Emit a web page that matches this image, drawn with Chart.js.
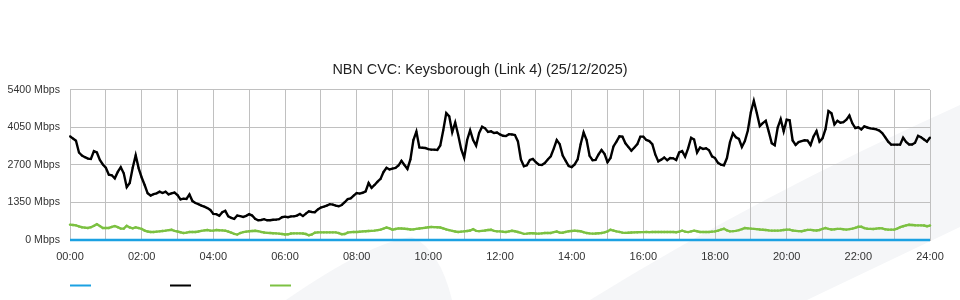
<!DOCTYPE html>
<html><head><meta charset="utf-8">
<script src="https://cdn.jsdelivr.net/npm/chart.js@4/dist/chart.umd.min.js"></script>
<style>html,body{margin:0;padding:0;background:#fff}#wrap{width:960px;height:300px;position:relative}</style>
</head><body><div id="wrap"><canvas id="c" width="960" height="300"></canvas></div>
<script>
const chartTitle = 'NBN CVC: Keysborough (Link 4) (25/12/2025)';
const sampleMinutes = 5;
const timeLabels = ['00:00','02:00','04:00','06:00','08:00','10:00','12:00','14:00','16:00','18:00','20:00','22:00','24:00'];
const yTickValues = [0, 1350, 2700, 4050, 5400];
const yUnit = 'Mbps';

const blueTimes = [0, 1440];
const blueSeries = [0, 0];

const blackSeries = [
3733,3650,3576,3150,3040,2980,2930,2916,3200,3150,
2880,2720,2600,2350,2330,2220,2450,2620,2400,1900,
2050,2600,3050,2580,2250,1980,1680,1600,1650,1680,
1740,1690,1740,1640,1680,1710,1620,1460,1488,1480,
1640,1400,1332,1290,1240,1200,1150,1080,940,930,
870,1000,1050,852,800,760,880,860,830,870,
930,880,760,710,720,750,710,710,730,732,
750,820,840,820,850,852,880,936,860,950,
1030,1010,1000,1100,1170,1200,1240,1290,1275,1240,
1215,1260,1360,1470,1500,1600,1690,1670,1700,1750,
2050,1880,1980,2100,2200,2450,2600,2540,2570,2592,
2680,2850,2700,2560,2900,3600,3900,3330,3320,3310,
3270,3252,3252,3240,3400,3950,4570,4450,3880,4230,
3780,3270,2960,3600,3950,3600,3400,3850,4080,4020,
3890,3910,3850,3870,3800,3750,3740,3810,3800,3780,
3550,2900,2652,2690,2880,2920,2800,2710,2700,2770,
2900,3015,3290,3600,3450,3040,2850,2660,2620,2720,
2900,3450,3870,3600,3030,2870,2880,3080,3240,3100,
2800,2950,3370,3540,3730,3720,3480,3350,3216,3330,
3450,3720,3720,3600,3560,3450,3080,2830,2892,2970,
2870,2952,2940,2880,3150,3200,3000,3300,3680,3620,
3150,3330,3280,3300,3230,3010,2950,2780,2710,2690,
2950,3520,3840,3700,3640,3350,3560,3940,4600,5010,
4570,4100,4210,4290,3900,3480,3410,4050,4350,3912,
4330,4310,3580,3420,3525,3560,3590,3580,3420,3730,
3920,3540,3660,3990,4640,4560,4160,4290,4220,4240,
4330,4480,4200,4030,4056,3980,4090,4050,4020,4005,
3985,3940,3850,3700,3540,3432,3432,3432,3432,3680,
3530,3440,3440,3500,3750,3700,3620,3540,3690
];

const greenSeries = [
552,540,528,490,460,445,432,460,510,570,
500,432,432,432,470,500,460,410,408,510,
450,420,456,430,400,340,305,290,288,300,
312,325,336,355,368,330,305,280,250,265,
288,288,288,305,330,345,358,336,336,358,
350,345,335,305,265,220,195,250,285,300,
315,325,335,318,290,270,255,250,245,240,
230,215,200,205,235,240,240,240,234,215,
170,200,260,276,276,276,276,276,276,276,
250,210,215,268,282,288,288,298,310,315,
322,330,338,355,372,410,450,420,372,395,
418,412,404,396,380,382,400,415,428,442,
460,466,462,458,450,415,380,355,330,305,
290,300,312,325,340,390,330,318,330,340,
358,368,330,312,312,295,290,310,332,315,
288,255,222,230,245,245,236,230,240,252,
252,252,285,305,265,262,290,314,325,336,
324,314,280,250,237,230,232,242,254,275,
310,370,340,310,290,265,255,262,270,276,
280,282,285,288,282,288,288,288,288,288,
288,288,288,280,300,336,300,285,310,336,
315,290,288,288,290,300,310,335,375,405,
350,312,318,330,355,390,430,420,410,402,
390,378,370,358,346,337,336,336,345,362,
372,372,340,330,320,315,340,365,365,350,
340,360,400,430,400,378,385,400,400,385,
375,390,408,440,475,475,430,405,400,396,
410,425,420,385,372,372,372,410,460,495,
525,550,540,530,528,528,520,495,520
];

const toPoints = (vals) => vals.map((v, i) => ({x: i * sampleMinutes, y: v}));
const bluePoints = blueSeries.map((v, i) => ({x: blueTimes[i], y: v}));

const FONT = "'Liberation Sans', Arial, sans-serif";

const backgroundShapes = {
  id: 'backgroundShapes',
  beforeDraw(chart) {
    const ctx = chart.ctx;
    ctx.save();
    ctx.fillStyle = '#ffffff';
    ctx.fillRect(0, 0, chart.width, chart.height);
    ctx.fillStyle = '#f5f6f8';
    ctx.beginPath();
    ctx.moveTo(590, 300);
    ctx.quadraticCurveTo(760, 195, 960, 105);
    ctx.lineTo(960, 227);
    ctx.lineTo(807, 300);
    ctx.closePath();
    ctx.fill();
    ctx.beginPath();
    ctx.moveTo(286, 300);
    ctx.quadraticCurveTo(370, 242, 412, 237);
    ctx.quadraticCurveTo(440, 250, 452, 300);
    ctx.closePath();
    ctx.fill();
    ctx.restore();
  }
};

const legendSwatches = {
  id: 'legendSwatches',
  afterDraw(chart) {
    const ctx = chart.ctx;
    const left = chart.chartArea.left;
    ctx.save();
    chart.data.datasets.forEach((d, i) => {
      ctx.strokeStyle = d.borderColor;
      ctx.lineWidth = 2;
      ctx.beginPath();
      ctx.moveTo(left + i * 100, 285.5);
      ctx.lineTo(left + i * 100 + 21, 285.5);
      ctx.stroke();
    });
    ctx.restore();
  }
};

new Chart(document.getElementById('c'), {
  type: 'line',
  data: {
    datasets: [
      {label: '', data: bluePoints, borderColor: '#1ba1e2', borderWidth: 2.5, pointRadius: 0, tension: 0, clip: false},
      {label: '', data: toPoints(blackSeries), borderColor: '#000000', backgroundColor: '#000000', borderWidth: 2.4, pointRadius: 1, pointBorderWidth: 0, tension: 0, clip: false},
      {label: '', data: toPoints(greenSeries), borderColor: '#7cc142', backgroundColor: '#7cc142', borderWidth: 2.4, pointRadius: 1.2, pointBorderWidth: 0, tension: 0, clip: false}
    ]
  },
  options: {
    responsive: false,
    animation: false,
    layout: {padding: {left: 0, right: 0, top: 0, bottom: 36}},
    plugins: {
      legend: {display: false},
      tooltip: {enabled: false},
      title: {display: true, text: chartTitle, color: '#222', font: {family: FONT, size: 14.4, weight: 'normal'}, padding: {top: 61, bottom: 11.7}}
    },
    scales: {
      x: {
        type: 'linear', min: 0, max: 1440,
        grid: {color: '#c0c0c0', lineWidth: 1, drawTicks: false},
        border: {color: '#c0c0c0'},
        afterFit(s) { s.height = 24; },
        afterBuildTicks(s) { const t = []; for (let v = 0; v <= 1440; v += 60) t.push({value: v}); s.ticks = t; },
        ticks: {
          autoSkip: false, maxRotation: 0, padding: 10, color: '#333',
          font: {family: FONT, size: 11},
          callback: (v) => (v % 120 === 0 ? timeLabels[v / 120] : '')
        }
      },
      y: {
        min: 0, max: 5400,
        grid: {color: '#c0c0c0', lineWidth: 1, drawTicks: false},
        border: {color: '#c0c0c0'},
        afterFit(s) { s.width = 70; },
        afterBuildTicks(s) { s.ticks = yTickValues.map(v => ({value: v})); },
        ticks: {padding: 10, color: '#333', font: {family: FONT, size: 10.6}, callback: (v) => v + ' ' + yUnit}
      },
      yRight: {
        position: 'right', min: 0, max: 1,
        grid: {display: false}, border: {display: false},
        ticks: {display: false},
        afterFit(s) { s.width = 30; }
      }
    }
  },
  plugins: [backgroundShapes, legendSwatches]
});
</script></body></html>
